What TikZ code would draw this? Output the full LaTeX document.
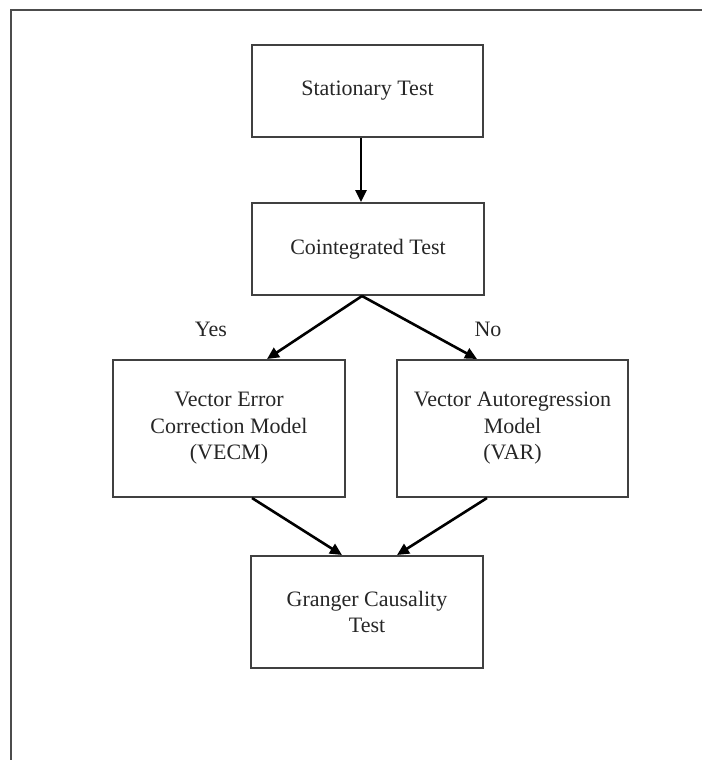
\documentclass[tikz,border=0pt]{standalone}
\usepackage{fontspec}
\setmainfont{Liberation Serif}
\usetikzlibrary{arrows.meta}
\begin{document}
\begin{tikzpicture}[x=1pt,y=-1pt,
  box/.style={draw=black!75,line width=2pt,rectangle,align=center,inner sep=0pt,
    font=\fontsize{22}{26.5}\selectfont,text=black!85},
  arr/.style={line width=2.6pt,black,-{Triangle[length=12pt,width=11pt]},shorten >=0pt},
  lbl/.style={font=\fontsize{22}{26.5}\selectfont,text=black!85},
  frame/.style={draw=black!70,line width=2pt}]
\useasboundingbox (0,0) rectangle (702,760);
\coordinate (fa) at (11,760);
\coordinate (fb) at (11,10);
\coordinate (fc) at (702,10);
\draw[frame] (fa) -- (fb) -- (fc);
\node[box,minimum width=231,minimum height=92] (stat) at (367.5,91) {Stationary Test};
\node[box,minimum width=232,minimum height=92] (coint) at (368,249) {Cointegrated Test};
\node[box,minimum width=232,minimum height=137] (vecm) at (229,428.5) {Vector Error\\Correction Model\\(VECM)};
\node[box,minimum width=231,minimum height=137] (var) at (512.5,428.5) {Vector Autoregression\\Model\\(VAR)};
\node[box,minimum width=232,minimum height=112] (gc) at (367,612) {Granger Causality\\Test};
\node[lbl] (yes) at (211,329) {Yes};
\node[lbl] (no) at (488,329) {No};
\draw[arr] ([xshift=-6.5]stat.south) -- ([xshift=-7]coint.north);
\draw[arr] ([xshift=-6]coint.south) -- ([xshift=38]vecm.north);
\draw[arr] ([xshift=-6]coint.south) -- ([xshift=-35.5]var.north);
\draw[arr] ([xshift=23]vecm.south) -- ([xshift=-25]gc.north);
\draw[arr] ([xshift=-25.5]var.south) -- ([xshift=30]gc.north);
\end{tikzpicture}
\end{document}
